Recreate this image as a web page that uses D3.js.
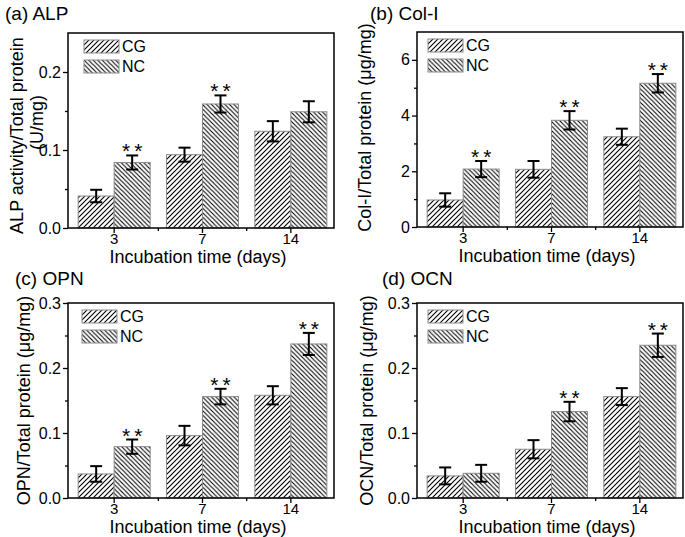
<!DOCTYPE html>
<html>
<head>
<meta charset="utf-8">
<script src="https://cdn.jsdelivr.net/npm/d3@7"></script>
<style>
  body { margin: 0; background: #fff; }
  svg { display: block; font-family: Arial, "Liberation Sans", sans-serif; }
</style>
</head>
<body>
<svg id="chart" width="685" height="537"></svg>
<script>
"use strict";

// categories
const days = ["3", "7", "14"];
const groups = ["CG", "NC"];

// (a) ALP
const alpCG = [0.041, 0.094, 0.124];
const alpCGErr = [0.008, 0.009, 0.013];
const alpNC = [0.084, 0.159, 0.149];
const alpNCErr = [0.009, 0.011, 0.0135];
const alpStars = [true, true, false];

// (b) Col-I
const colCG = [0.97, 2.07, 3.24];
const colCGErr = [0.24, 0.30, 0.29];
const colNC = [2.08, 3.83, 5.16];
const colNCErr = [0.29, 0.33, 0.33];
const colStars = [true, true, true];

// (c) OPN
const opnCG = [0.037, 0.096, 0.158];
const opnCGErr = [0.012, 0.015, 0.014];
const opnNC = [0.079, 0.156, 0.237];
const opnNCErr = [0.011, 0.012, 0.017];
const opnStars = [true, true, true];

// (d) OCN
const ocnCG = [0.034, 0.075, 0.156];
const ocnCGErr = [0.013, 0.014, 0.013];
const ocnNC = [0.038, 0.133, 0.235];
const ocnNCErr = [0.013, 0.015, 0.018];
const ocnStars = [false, true, true];

// axis ticks
const yTicksSmall = [0, 0.1, 0.2];
const yMinorSmall = [0.05, 0.15];
const yTicksCol = [0, 2, 4, 6];
const yMinorCol = [1, 3, 5];
const yTicksBone = [0, 0.1, 0.2, 0.3];
const yMinorBone = [0.05, 0.15, 0.25];

const xTitle = "Incubation time (days)";

const panels = [
  { title: "(a) ALP", yLabel: ["ALP activity/Total protein", "(U/mg)"], yMax: 0.25,
    ticks: yTicksSmall, minor: yMinorSmall, fmt: d3.format(".1f"),
    cg: alpCG, cgErr: alpCGErr, nc: alpNC, ncErr: alpNCErr, stars: alpStars,
    left: 68, top: 33, titleX: 5, titleY: 20, labelX: [-45, -25], labelDy: [5, -8], legX: 16 },
  { title: "(b) Col-I", yLabel: ["Col-I/Total protein (\u03bcg/mg)"], yMax: 7,
    ticks: yTicksCol, minor: yMinorCol, fmt: d3.format("d"),
    cg: colCG, cgErr: colCGErr, nc: colNC, ncErr: colNCErr, stars: colStars,
    left: 417, top: 32, titleX: 370, titleY: 20, labelX: [-46], labelDy: [-2], legX: 11 },
  { title: "(c) OPN", yLabel: ["OPN/Total protein (\u03bcg/mg)"], yMax: 0.3,
    ticks: yTicksBone, minor: yMinorBone, fmt: d3.format(".1f"),
    cg: opnCG, cgErr: opnCGErr, nc: opnNC, ncErr: opnNCErr, stars: opnStars,
    left: 68, top: 303, titleX: 15, titleY: 285, labelX: [-38], labelDy: [0], legX: 14 },
  { title: "(d) OCN", yLabel: ["OCN/Total protein (\u03bcg/mg)"], yMax: 0.3,
    ticks: yTicksBone, minor: yMinorBone, fmt: d3.format(".1f"),
    cg: ocnCG, cgErr: ocnCGErr, nc: ocnNC, ncErr: ocnNCErr, stars: ocnStars,
    left: 417, top: 303, titleX: 382, titleY: 285, labelX: [-44], labelDy: [0], legX: 11 }
];

const W = 266, H = 195;
const svg = d3.select("#chart");

// hatch patterns: CG "/" and NC "\"
const defs = svg.append("defs");
function hatch(id, s, forward) {
  const p = defs.append("pattern")
    .attr("id", id)
    .attr("patternUnits", "userSpaceOnUse")
    .attr("width", s).attr("height", s);
  p.append("rect").attr("width", s).attr("height", s).attr("fill", "#fff");
  const path = forward
    ? `M0,${s} L${s},0 M${-s / 2},${s / 2} L${s / 2},${-s / 2} M${s / 2},${s * 1.5} L${s * 1.5},${s / 2}`
    : `M0,0 L${s},${s} M${-s / 2},${s / 2} L${s / 2},${s * 1.5} M${s / 2},${-s / 2} L${s * 1.5},${s / 2}`;
  p.append("path").attr("d", path).attr("stroke", "#000").attr("stroke-width", 1.1);
}
hatch("hatchCG", 5, true);
hatch("hatchNC", 4.5, false);
const fills = { CG: "url(#hatchCG)", NC: "url(#hatchNC)" };

panels.forEach(function(p) {
  const g = svg.append("g").attr("transform", `translate(${p.left},${p.top})`);

  const pad = 0.185;
  const x = d3.scaleBand().domain(days).range([2, W + 1])
    .paddingInner(pad).paddingOuter(pad / 2);
  const xg = d3.scaleBand().domain(groups).range([0, x.bandwidth()]);
  const y = d3.scaleLinear().domain([0, p.yMax]).range([H, 0]);

  const rows = [];
  days.forEach(function(d, i) {
    rows.push({ day: d, grp: "CG", v: p.cg[i], e: p.cgErr[i], star: false });
    rows.push({ day: d, grp: "NC", v: p.nc[i], e: p.ncErr[i], star: p.stars[i] });
  });

  // bars
  g.append("g").selectAll("rect")
    .data(rows)
    .enter()
    .append("rect")
    .attr("x", d => x(d.day) + xg(d.grp))
    .attr("y", d => y(d.v))
    .attr("width", xg.bandwidth())
    .attr("height", d => H - y(d.v))
    .attr("fill", d => fills[d.grp])
    .attr("stroke", "#8a8a8a")
    .attr("stroke-width", 1);

  // error bars
  const eb = g.append("g").selectAll("g")
    .data(rows)
    .enter()
    .append("g")
    .attr("transform", d => `translate(${x(d.day) + xg(d.grp) + xg.bandwidth() / 2},0)`)
    .attr("stroke", "#000")
    .attr("stroke-width", 2);
  eb.append("line").attr("y1", d => y(d.v + d.e)).attr("y2", d => y(d.v - d.e));
  eb.append("line").attr("x1", -6).attr("x2", 6)
    .attr("y1", d => y(d.v + d.e)).attr("y2", d => y(d.v + d.e));
  eb.append("line").attr("x1", -6).attr("x2", 6)
    .attr("y1", d => y(d.v - d.e)).attr("y2", d => y(d.v - d.e));

  // significance stars
  g.append("g").selectAll("text")
    .data(rows.filter(d => d.star))
    .enter()
    .append("text")
    .attr("x", d => x(d.day) + xg(d.grp) + xg.bandwidth() / 2 + 2)
    .attr("y", d => y(d.v + d.e) + 3)
    .attr("text-anchor", "middle")
    .attr("font-size", 21)
    .attr("letter-spacing", 4)
    .text("**");

  // y axis
  const ya = g.append("g")
    .call(d3.axisLeft(y).tickValues(p.ticks).tickFormat(p.fmt).tickSize(5).tickSizeOuter(0).tickPadding(2));
  ya.select(".domain").remove();
  ya.selectAll("text").attr("font-size", 16).attr("fill", "#000");
  ya.selectAll("line").attr("stroke-width", 1.3);
  const ym = g.append("g")
    .call(d3.axisLeft(y).tickValues(p.minor).tickFormat("").tickSize(3).tickSizeOuter(0));
  ym.select(".domain").remove();
  ym.selectAll("line").attr("stroke-width", 1.3);

  // x axis
  const xa = g.append("g").attr("transform", `translate(0,${H})`)
    .call(d3.axisBottom(x).tickSize(5).tickSizeOuter(0).tickPadding(0));
  xa.select(".domain").remove();
  xa.selectAll("text").attr("font-size", 15).attr("fill", "#000");
  xa.selectAll("line").attr("stroke-width", 1.3);
  g.append("g").selectAll("line")
    .data(days.slice(1))
    .enter()
    .append("line")
    .attr("x1", d => x(d) - x.step() * pad / 2)
    .attr("x2", d => x(d) - x.step() * pad / 2)
    .attr("y1", H).attr("y2", H + 3)
    .attr("stroke", "#000").attr("stroke-width", 1.3);

  // frame
  g.append("rect")
    .attr("width", W).attr("height", H)
    .attr("fill", "none").attr("stroke", "#000").attr("stroke-width", 1.5);

  // legend
  const leg = g.append("g").selectAll("g")
    .data(groups)
    .enter()
    .append("g")
    .attr("transform", (d, i) => `translate(${p.legX},${7 + i * 20})`);
  leg.append("rect")
    .attr("width", 35).attr("height", 13)
    .attr("fill", d => fills[d])
    .attr("stroke", "#8a8a8a").attr("stroke-width", 1);
  leg.append("text")
    .attr("x", 38).attr("y", 6.5)
    .attr("dy", "0.36em")
    .attr("font-size", 16)
    .text(d => d);

  // axis titles
  g.append("text")
    .attr("x", W / 2 - 3).attr("y", H + 35)
    .attr("text-anchor", "middle")
    .attr("font-size", 18)
    .text(xTitle);

  p.yLabel.forEach(function(line, i) {
    g.append("text")
      .attr("transform", `translate(${p.labelX[i]},${H / 2 + p.labelDy[i]}) rotate(-90)`)
      .attr("text-anchor", "middle")
      .attr("font-size", 18)
      .text(line);
  });

  // panel title
  svg.append("text")
    .attr("x", p.titleX).attr("y", p.titleY)
    .attr("font-size", 19)
    .text(p.title);
});
</script>
</body>
</html>
